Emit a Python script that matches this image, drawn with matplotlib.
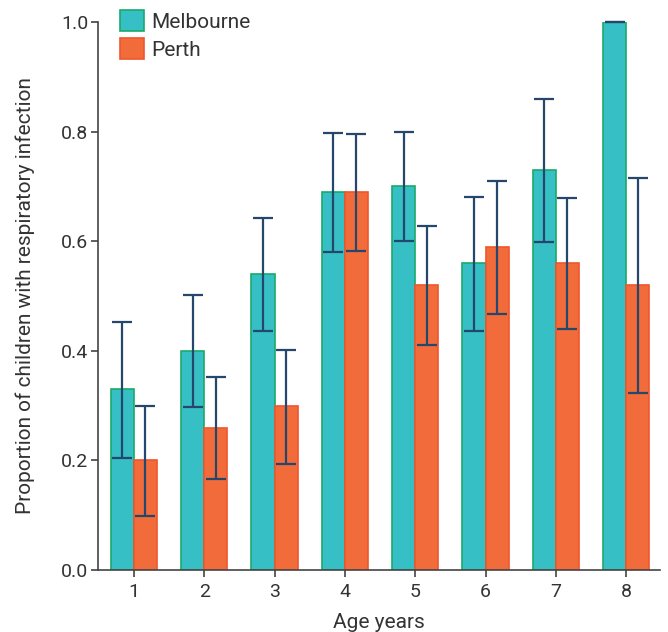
import numpy as np
import matplotlib.pyplot as plt

plt.rcParams['font.family'] = ['Roboto', 'DejaVu Sans']

ages = [1, 2, 3, 4, 5, 6, 7, 8]
melbourne = [0.33, 0.40, 0.54, 0.69, 0.70, 0.56, 0.73, 1.00]
melbourne_lo = [0.205, 0.297, 0.436, 0.580, 0.600, 0.436, 0.598, 1.00]
melbourne_hi = [0.453, 0.501, 0.642, 0.797, 0.800, 0.681, 0.860, 1.00]
perth = [0.20, 0.26, 0.30, 0.69, 0.52, 0.59, 0.56, 0.52]
perth_lo = [0.098, 0.166, 0.194, 0.583, 0.410, 0.468, 0.440, 0.323]
perth_hi = [0.299, 0.352, 0.402, 0.795, 0.627, 0.710, 0.679, 0.715]

text_col = '#333333'
err_col = '#24476b'

fig = plt.figure(figsize=(6.68, 6.32), dpi=100)
ax = fig.add_axes([0.1467, 0.0981, 0.8413, 0.8671])

x = np.array(ages)
w = 0.33
m = np.array(melbourne)
p = np.array(perth)

ax.bar(x - w / 2, m, width=w, color='#36c0c5', edgecolor='#1aaa6a',
       linewidth=1.2, label='Melbourne', zorder=2)
ax.bar(x + w / 2, p, width=w, color='#f26b3a', edgecolor='#f0552c',
       linewidth=1.2, label='Perth', zorder=2)

ax.errorbar(x - w / 2, m, yerr=[m - np.array(melbourne_lo), np.array(melbourne_hi) - m],
            fmt='none', ecolor=err_col, elinewidth=1.6, capsize=7, capthick=1.6,
            zorder=3, clip_on=False)
ax.errorbar(x + w / 2, p, yerr=[p - np.array(perth_lo), np.array(perth_hi) - p],
            fmt='none', ecolor=err_col, elinewidth=1.6, capsize=7, capthick=1.6,
            zorder=3, clip_on=False)

ax.set_xlim(0.49, 8.48)
ax.set_ylim(0, 1.0)
ax.set_xticks(ages)
ax.set_yticks([0.0, 0.2, 0.4, 0.6, 0.8, 1.0])
ax.set_yticklabels(['0.0', '0.2', '0.4', '0.6', '0.8', '1.0'])

for s in ['top', 'right']:
    ax.spines[s].set_visible(False)
for s in ['left', 'bottom']:
    ax.spines[s].set_color('#444444')
    ax.spines[s].set_linewidth(1.2)
ax.tick_params(colors='#444444', labelcolor=text_col, labelsize=14, length=5, width=1.2)
ax.tick_params(axis='x', pad=4)
ax.tick_params(axis='y', pad=2)

ax.set_xlabel('Age years', fontsize=15, color=text_col, labelpad=9)
ax.set_ylabel('Proportion of children with respiratory infection', fontsize=15,
              color=text_col, labelpad=19)

ax.legend(loc='upper left', bbox_to_anchor=(0.039, 1.022), frameon=False,
          fontsize=15, handlelength=1.15, handleheight=1.2, handletextpad=0.35,
          labelspacing=0.3, labelcolor=text_col, borderaxespad=0, borderpad=0)

fig.savefig('out.png', dpi=100)
